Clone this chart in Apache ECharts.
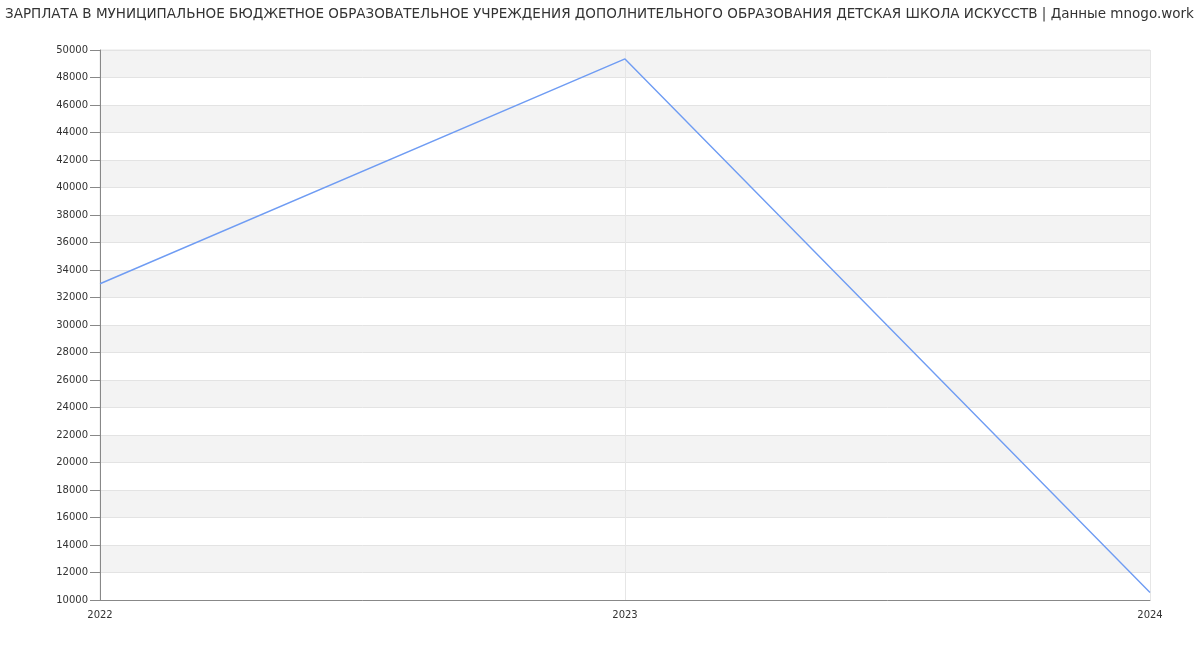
<!DOCTYPE html>
<html><head><meta charset="utf-8">
<script src="https://cdn.jsdelivr.net/npm/echarts@6/dist/echarts.min.js"></script>
<style>html,body{margin:0;padding:0;background:#fff}#c{width:1200px;height:650px}</style>
</head><body><div id="c"></div>
<script>
const titleText = 'ЗАРПЛАТА В МУНИЦИПАЛЬНОЕ БЮДЖЕТНОЕ ОБРАЗОВАТЕЛЬНОЕ УЧРЕЖДЕНИЯ ДОПОЛНИТЕЛЬНОГО ОБРАЗОВАНИЯ ДЕТСКАЯ ШКОЛА ИСКУССТВ | Данные mnogo.work';
const years = ['2022', '2023', '2024'];
const salary = [33000, 49350, 10550];

const chart = echarts.init(document.getElementById('c'));
chart.setOption({
  animation: false,
  textStyle: { fontFamily: 'DejaVu Sans' },
  title: {
    text: titleText, left: 0, top: 2,
    textStyle: { fontSize: 13.5, fontWeight: 'normal', color: '#333', fontFamily: 'DejaVu Sans' }
  },
  grid: { left: 100, right: 50, top: 50, bottom: 50, show: true, borderColor: '#e6e6e6', borderWidth: 1, backgroundColor: 'transparent' },
  xAxis: {
    type: 'category', data: years, boundaryGap: false,
    axisLine: { lineStyle: { color: '#888' } },
    axisTick: { show: false },
    axisLabel: { color: '#333', fontSize: 10, margin: 10 },
    splitLine: { show: true, lineStyle: { color: '#e6e6e6' } }
  },
  yAxis: {
    type: 'value', min: 10000, max: 50000, interval: 2000,
    axisLine: { show: true, lineStyle: { color: '#888' } },
    axisTick: { show: true, length: 10, lineStyle: { color: '#888' } },
    axisLabel: { color: '#333', fontSize: 10, margin: 12, formatter: v => String(v) },
    splitLine: { show: true, lineStyle: { color: '#e3e3e3' } },
    splitArea: { show: true, areaStyle: { color: ['#ffffff', '#f3f3f3'] } }
  },
  series: [{
    type: 'line', data: salary, symbol: 'none',
    lineStyle: { color: '#6f9cf3', width: 1.4 }
  }]
});
</script></body></html>
